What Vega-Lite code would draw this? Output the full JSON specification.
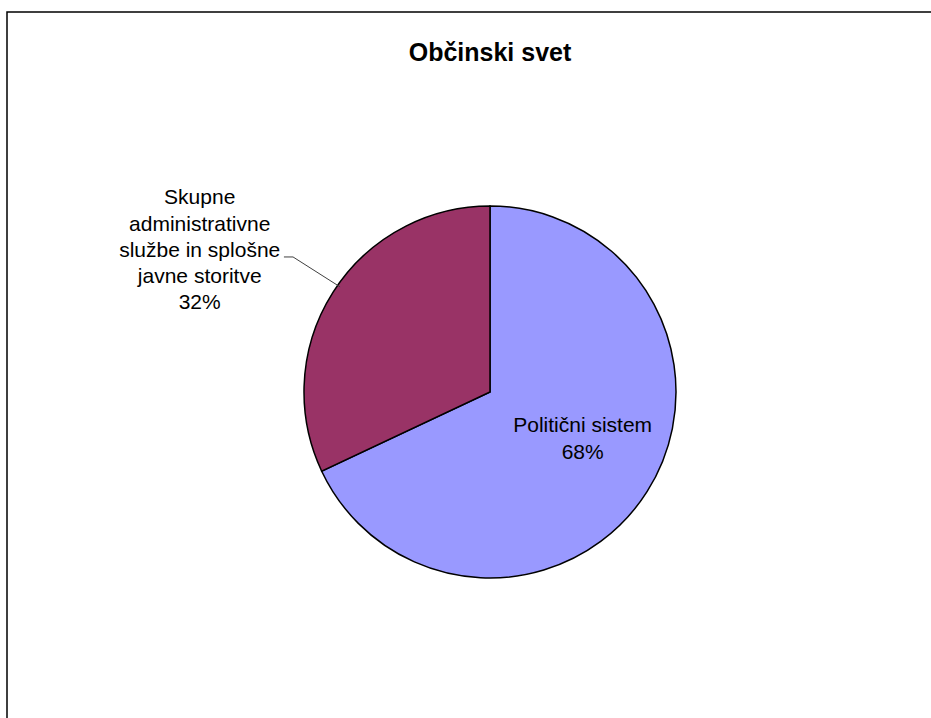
{
  "$schema": "https://vega.github.io/schema/vega-lite/v6.json",
  "autosize": "none",
  "width": 966,
  "height": 760,
  "padding": {"left": 7, "top": 12, "right": 0, "bottom": 0},
  "background": "white",
  "config": {
    "view": {"stroke": "black", "strokeWidth": 1.5},
    "font": "Liberation Sans"
  },
  "title": {
    "text": "Občinski svet",
    "font": "Liberation Sans",
    "fontSize": 25,
    "fontWeight": "bold",
    "color": "black",
    "anchor": "middle",
    "baseline": "alphabetic",
    "offset": -74
  },
  "datasets": {
    "slices": [
      {"category": "Politični sistem", "value": 68, "order": 1, "label": "Politični sistem\n68%"},
      {"category": "Skupne administrativne službe in splošne javne storitve", "value": 32, "order": 2, "label": "Skupne\nadministrativne\nslužbe  in splošne\njavne storitve\n32%"}
    ],
    "leader": [
      {"px": -1.108, "py": 0.726, "seq": 1},
      {"px": -1.059, "py": 0.726, "seq": 2},
      {"px": -0.806, "py": 0.565, "seq": 3}
    ]
  },
  "layer": [
    {
      "data": {"name": "slices"},
      "mark": {"type": "arc", "outerRadius": 186, "stroke": "black", "strokeWidth": 1.5},
      "encoding": {
        "theta": {"field": "value", "type": "quantitative", "stack": true},
        "order": {"field": "order", "type": "quantitative"},
        "color": {
          "field": "category",
          "type": "nominal",
          "scale": {"domain": ["Politični sistem", "Skupne administrativne službe in splošne javne storitve"], "range": ["#9999FF", "#993366"]},
          "legend": null
        }
      }
    },
    {
      "data": {"name": "slices"},
      "mark": {"type": "text", "radius": 105, "dx": 4, "dy": -22, "fontSize": 21, "lineBreak": "\n", "lineHeight": 27, "align": "center", "baseline": "middle", "color": "black"},
      "encoding": {
        "theta": {"field": "value", "type": "quantitative", "stack": true},
        "order": {"field": "order", "type": "quantitative"},
        "text": {"condition": {"test": "datum.order == 1", "field": "label"}, "value": ""}
      }
    },
    {
      "data": {"name": "slices"},
      "mark": {"type": "text", "radius": 300, "dx": -37, "dy": -33, "fontSize": 21, "lineBreak": "\n", "lineHeight": 26.3, "align": "center", "baseline": "middle", "color": "black"},
      "encoding": {
        "theta": {"field": "value", "type": "quantitative", "stack": true},
        "order": {"field": "order", "type": "quantitative"},
        "text": {"condition": {"test": "datum.order == 2", "field": "label"}, "value": ""}
      }
    },
    {
      "data": {"name": "leader"},
      "mark": {"type": "line", "color": "#404040", "strokeWidth": 1},
      "encoding": {
        "x": {"field": "px", "type": "quantitative", "scale": {"domain": [-2.597, 2.597], "nice": false, "zero": false}, "axis": null},
        "y": {"field": "py", "type": "quantitative", "scale": {"domain": [-2.043, 2.043], "nice": false, "zero": false}, "axis": null},
        "order": {"field": "seq", "type": "quantitative"}
      }
    }
  ]
}
